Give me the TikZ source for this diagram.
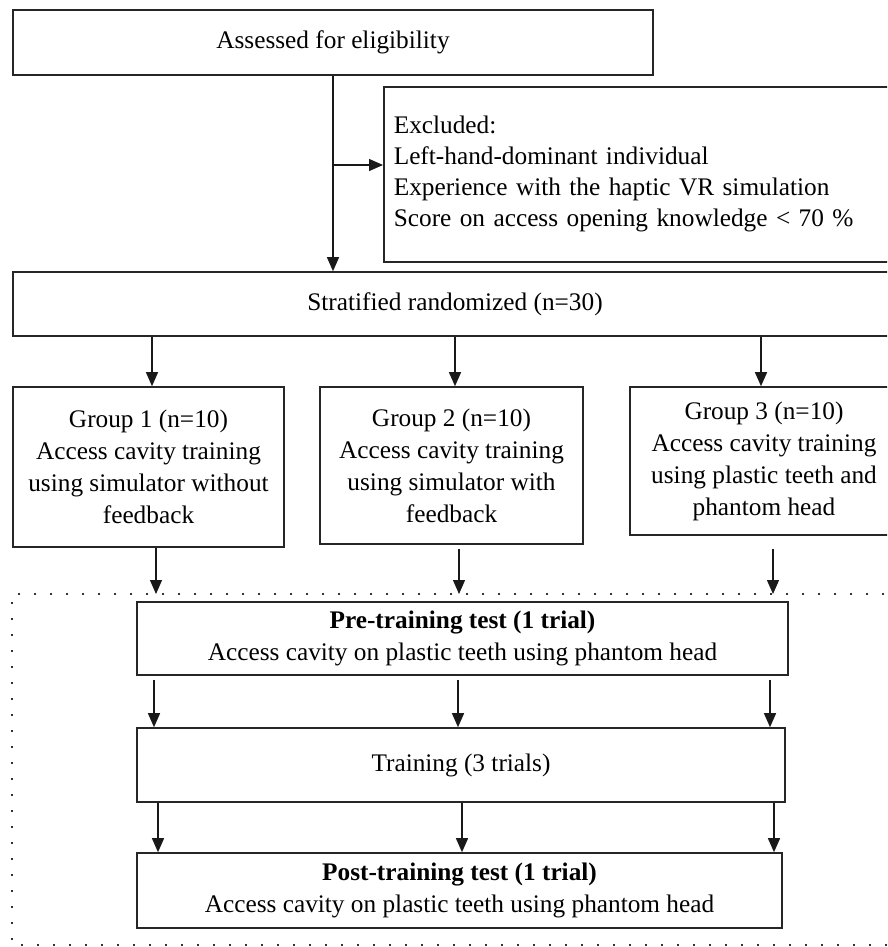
\documentclass[tikz,border=0pt]{standalone}
\usepackage{fontspec}
\setmainfont{Liberation Serif}
\usetikzlibrary{arrows.meta}
\begin{document}
\begin{tikzpicture}[x=1pt,y=-1pt,
  box/.style={draw=black!85, line width=1.6pt, inner sep=0pt, align=center, font=\fontsize{25.3}{32}\selectfont},
  arr/.style={draw=black!90, line width=1.3pt, -{Triangle[width=12pt,length=14pt]}},
  dots/.style={draw=black!80, line width=2pt, dash pattern=on 2pt off 14pt}]
\clip (0,0) rectangle (887,947);
\fill[white] (0,0) rectangle (887,947);

% boxes
\node[box, minimum width=640, minimum height=65] (assess) at (333,42.5) {Assessed for eligibility};
\node[box, anchor=north west, minimum width=540, minimum height=175, text width=520, align=left, inner xsep=10pt,
      font=\fontsize{25.3}{31}\selectfont] (excl) at (383,86)
  {Excluded:\\Left-hand-dominant individual\\Experience with the haptic VR simulation\\Score on access opening knowledge < 70 \%};
\node[box, minimum width=884, minimum height=64] (strat) at (455,304) {Stratified randomized (n=30)};
\node[box, minimum width=271, minimum height=160] (g1) at (148.5,467)
  {Group 1 (n=10)\\Access cavity training\\using simulator without\\feedback};
\node[box, minimum width=263, minimum height=157] (g2) at (451.5,465.5)
  {Group 2 (n=10)\\Access cavity training\\using simulator with\\feedback};
\node[box, minimum width=268, minimum height=148] (g3) at (764,461)
  {Group 3 (n=10)\\Access cavity training\\using plastic teeth and\\phantom head};
\node[box, minimum width=651, minimum height=73] (pre) at (462.5,638.5)
  {\raisebox{-3pt}{\textbf{Pre-training test (1 trial)}}\\\raisebox{-3pt}{Access cavity on plastic teeth using phantom head}};
\node[box, minimum width=648, minimum height=74] (train) at (461,765)
  {\raisebox{5pt}{Training (3 trials)}};
\node[box, minimum width=645, minimum height=75] (post) at (459.5,890.5)
  {\textbf{Post-training test (1 trial)}\\Access cavity on plastic teeth using phantom head};

% dotted frame
\draw[dots] (900,594) -- (12,594) -- (12,945) -- (900,945);

% column coordinates
\coordinate (br) at (333,165);
\coordinate (s1) at (152,0); \coordinate (s2) at (455,0); \coordinate (s3) at (761,0);
\coordinate (f1) at (156,594); \coordinate (f2) at (459,594); \coordinate (f3) at (773,594);
\coordinate (p1) at (154,0); \coordinate (p2) at (458,0); \coordinate (p3) at (770,0);
\coordinate (t1) at (158,0); \coordinate (t2) at (462,0); \coordinate (t3) at (774,0);

% connectors
\draw[arr] (assess.south) -- (strat.north -| assess.south);
\draw[arr] (br) -- (excl.west |- br);
\draw[arr] (strat.south -| s1) -- (g1.north -| s1);
\draw[arr] (strat.south -| s2) -- (g2.north -| s2);
\draw[arr] (strat.south -| s3) -- (g3.north -| s3);
\draw[arr] (g1.south -| f1) -- (f1);
\draw[arr, shorten <=4pt] (g2.south -| f2) -- (f2);
\draw[arr, shorten <=13pt] (g3.south -| f3) -- (f3);
\draw[arr, shorten <=4pt] (pre.south -| p1) -- (train.north -| p1);
\draw[arr, shorten <=4pt] (pre.south -| p2) -- (train.north -| p2);
\draw[arr, shorten <=4pt] (pre.south -| p3) -- (train.north -| p3);
\draw[arr] (train.south -| t1) -- (post.north -| t1);
\draw[arr] (train.south -| t2) -- (post.north -| t2);
\draw[arr] (train.south -| t3) -- (post.north -| t3);
\end{tikzpicture}
\end{document}
